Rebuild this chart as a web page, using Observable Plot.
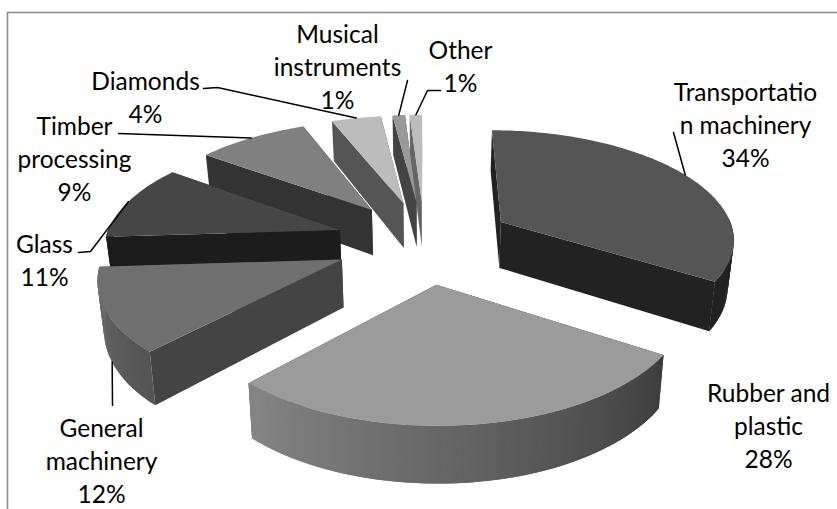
<!DOCTYPE html>
<html>
<head>
<meta charset="utf-8">
<script src="https://cdn.jsdelivr.net/npm/d3@7"></script>
<script src="https://cdn.jsdelivr.net/npm/@observablehq/plot@0.6"></script>
<style>
  html, body { margin: 0; padding: 0; background: #fff; }
  svg { display: block; }
</style>
</head>
<body>
<div id="chart"></div>
<script>
// Industry shares, clockwise from twelve o'clock
const sectors = ["Transportation machinery", "Rubber and plastic", "General machinery", "Glass",
                 "Timber processing", "Diamonds", "Musical instruments", "Other"];
const shares = [34, 28, 12, 11, 9, 4, 1, 1];

// Wrapped label text, one entry per sector
const labelLines = [
  ["Transportatio", "n machinery"], ["Rubber and", "plastic"], ["General", "machinery"], ["Glass"],
  ["Timber", "processing"], ["Diamonds"], ["Musical", "instruments"], ["Other"]
];

// Grey ramp of each sector: top face, cut faces, outer rim at its two ends
const topShades  = ["#555555", "#9b9b9b", "#6f6f6f", "#464646", "#808080", "#bcbcbc", "#999999", "#bdbdbd"];
const wallShades = ["#222222", "#3f3f3f", "#444444", "#1c1c1c", "#333333", "#555555", "#444444", "#666666"];
const rimStart   = ["#222222", "#3e3e3e", "#545454", "#1c1c1c", "#333333", "#555555", "#444444", "#666666"];
const rimEnd     = ["#222222", "#858585", "#6c6c6c", "#1c1c1c", "#333333", "#555555", "#444444", "#666666"];

// Label placement (centre x, centre y of the text block)
const labelX = [745, 768, 101, 44, 74, 145, 337, 460];
const labelY = [122.5, 423.5, 458.5, 258, 156.5, 95, 64.5, 64];
// Leader line bends, running from the label towards the slice; Rubber and plastic has none
const leaderBends = [
  [[673, 132]], [], [[112, 405]], [[78, 252], [90, 251]],
  [[118, 133]], [[203, 88], [217, 87]], [[407, 80]], [[440, 90], [427, 90]]
];
// Height on the slice where the leader lands: 0 top rim, 1 bottom rim
const leaderDrop = [0, 0, 1, 0, 0, 0, 0, 0];

// Painter's order, far slices first
const drawOrder = [7, 6, 5, 4, 3, 2, 1, 0];

// Projection of the exploded cylinder on the view plane
const W = 837, H = 509;
const centre = {x: 424, y: 241};
const radiusX = 235, radiusY = 109, thickness = 47;
const explode = 0.38, perspective = 0.135, taper = 0.98;

function project(X, Y, Z) {
  const s = 1 / (1 + perspective * Y);
  const k = 1 + (taper - 1) * Z;
  return [centre.x + radiusX * X * s * k, centre.y - radiusY * Y * s + thickness * Z * s];
}

// Start and end angles derived from the shares
let running = 0;
const slices = shares.map((share, i) => {
  const a0 = running / 100 * 2 * Math.PI;
  running += share;
  const a1 = running / 100 * 2 * Math.PI;
  const mid = (a0 + a1) / 2;
  return {i, a0, a1, mid, ox: explode * Math.sin(mid), oy: explode * Math.cos(mid)};
});

const rimPoint = (sl, a, Z) => project(sl.ox + Math.sin(a), sl.oy + Math.cos(a), Z);
const apexPoint = (sl, Z) => project(sl.ox, sl.oy, Z);

const faces = [];
let faceId = 0;
function addFace(points, shade) {
  const piece = faceId++;
  for (const [x, y] of points) faces.push({piece, shade, x, y});
}

for (const i of drawOrder) {
  const sl = slices[i];
  const steps = Math.max(4, Math.round((sl.a1 - sl.a0) / (Math.PI / 180)));
  const angles = d3.range(steps + 1).map(t => sl.a0 + (sl.a1 - sl.a0) * t / steps);

  // Cut faces along the two radii
  for (const a of [sl.a0, sl.a1]) {
    addFace([apexPoint(sl, 0), rimPoint(sl, a, 0), rimPoint(sl, a, 1), apexPoint(sl, 1)], wallShades[i]);
  }
  // Outer rim, only the part turned towards the viewer; each strip runs under the next to hide seams
  const ramp = d3.interpolateRgb(rimStart[i], rimEnd[i]);
  for (let t = 0; t < steps; t++) {
    const a = angles[t], b = angles[Math.min(t + 2, steps)];
    if (Math.cos((angles[t] + angles[t + 1]) / 2) > 0.05) continue;
    addFace([rimPoint(sl, a, 0), rimPoint(sl, b, 0), rimPoint(sl, b, 1), rimPoint(sl, a, 1)],
            d3.color(ramp(t / (steps - 1))).formatHex());
  }
  // Top face
  addFace([apexPoint(sl, 0), ...angles.map(a => rimPoint(sl, a, 0))], topShades[i]);
}

const labels = sectors.map((name, i) => ({
  name,
  text: [...labelLines[i], shares[i] + "%"].join("\n"),
  x: labelX[i],
  y: labelY[i]
}));

const leaders = [];
slices.forEach(sl => {
  if (!leaderBends[sl.i].length) return;
  const end = rimPoint(sl, sl.mid, leaderDrop[sl.i]);
  [...leaderBends[sl.i], end].forEach(([x, y]) => leaders.push({slice: sl.i, x, y}));
});

const chart = Plot.plot({
  width: W,
  height: H,
  margin: 0,
  x: {domain: [0, W], range: [0, W], axis: null},
  y: {domain: [0, H], range: [0, H], axis: null},
  color: {type: "identity"},
  style: {background: "#fff"},
  marks: [
    // Chart frame: top and left edges only
    Plot.ruleY([12], {x1: 7, x2: W, stroke: "#8a8a8a", strokeWidth: 1.6}),
    Plot.ruleX([7], {y1: 12, y2: H, stroke: "#8a8a8a", strokeWidth: 1.6}),
    Plot.line(faces, {
      x: "x", y: "y", z: "piece",
      fill: "shade", stroke: "none",
      curve: "linear-closed"
    }),
    Plot.line(leaders, {x: "x", y: "y", z: "slice", stroke: "#000", strokeWidth: 1.5, curve: "linear"}),
    Plot.text(labels, {
      x: "x", y: "y", text: "text",
      fontFamily: "Lato, 'Noto Sans', sans-serif",
      fontSize: 24.5,
      lineHeight: 1.35,
      lineAnchor: "middle",
      textAnchor: "middle",
      fill: "#000"
    })
  ]
});

document.getElementById("chart").append(chart);
</script>
</body>
</html>
